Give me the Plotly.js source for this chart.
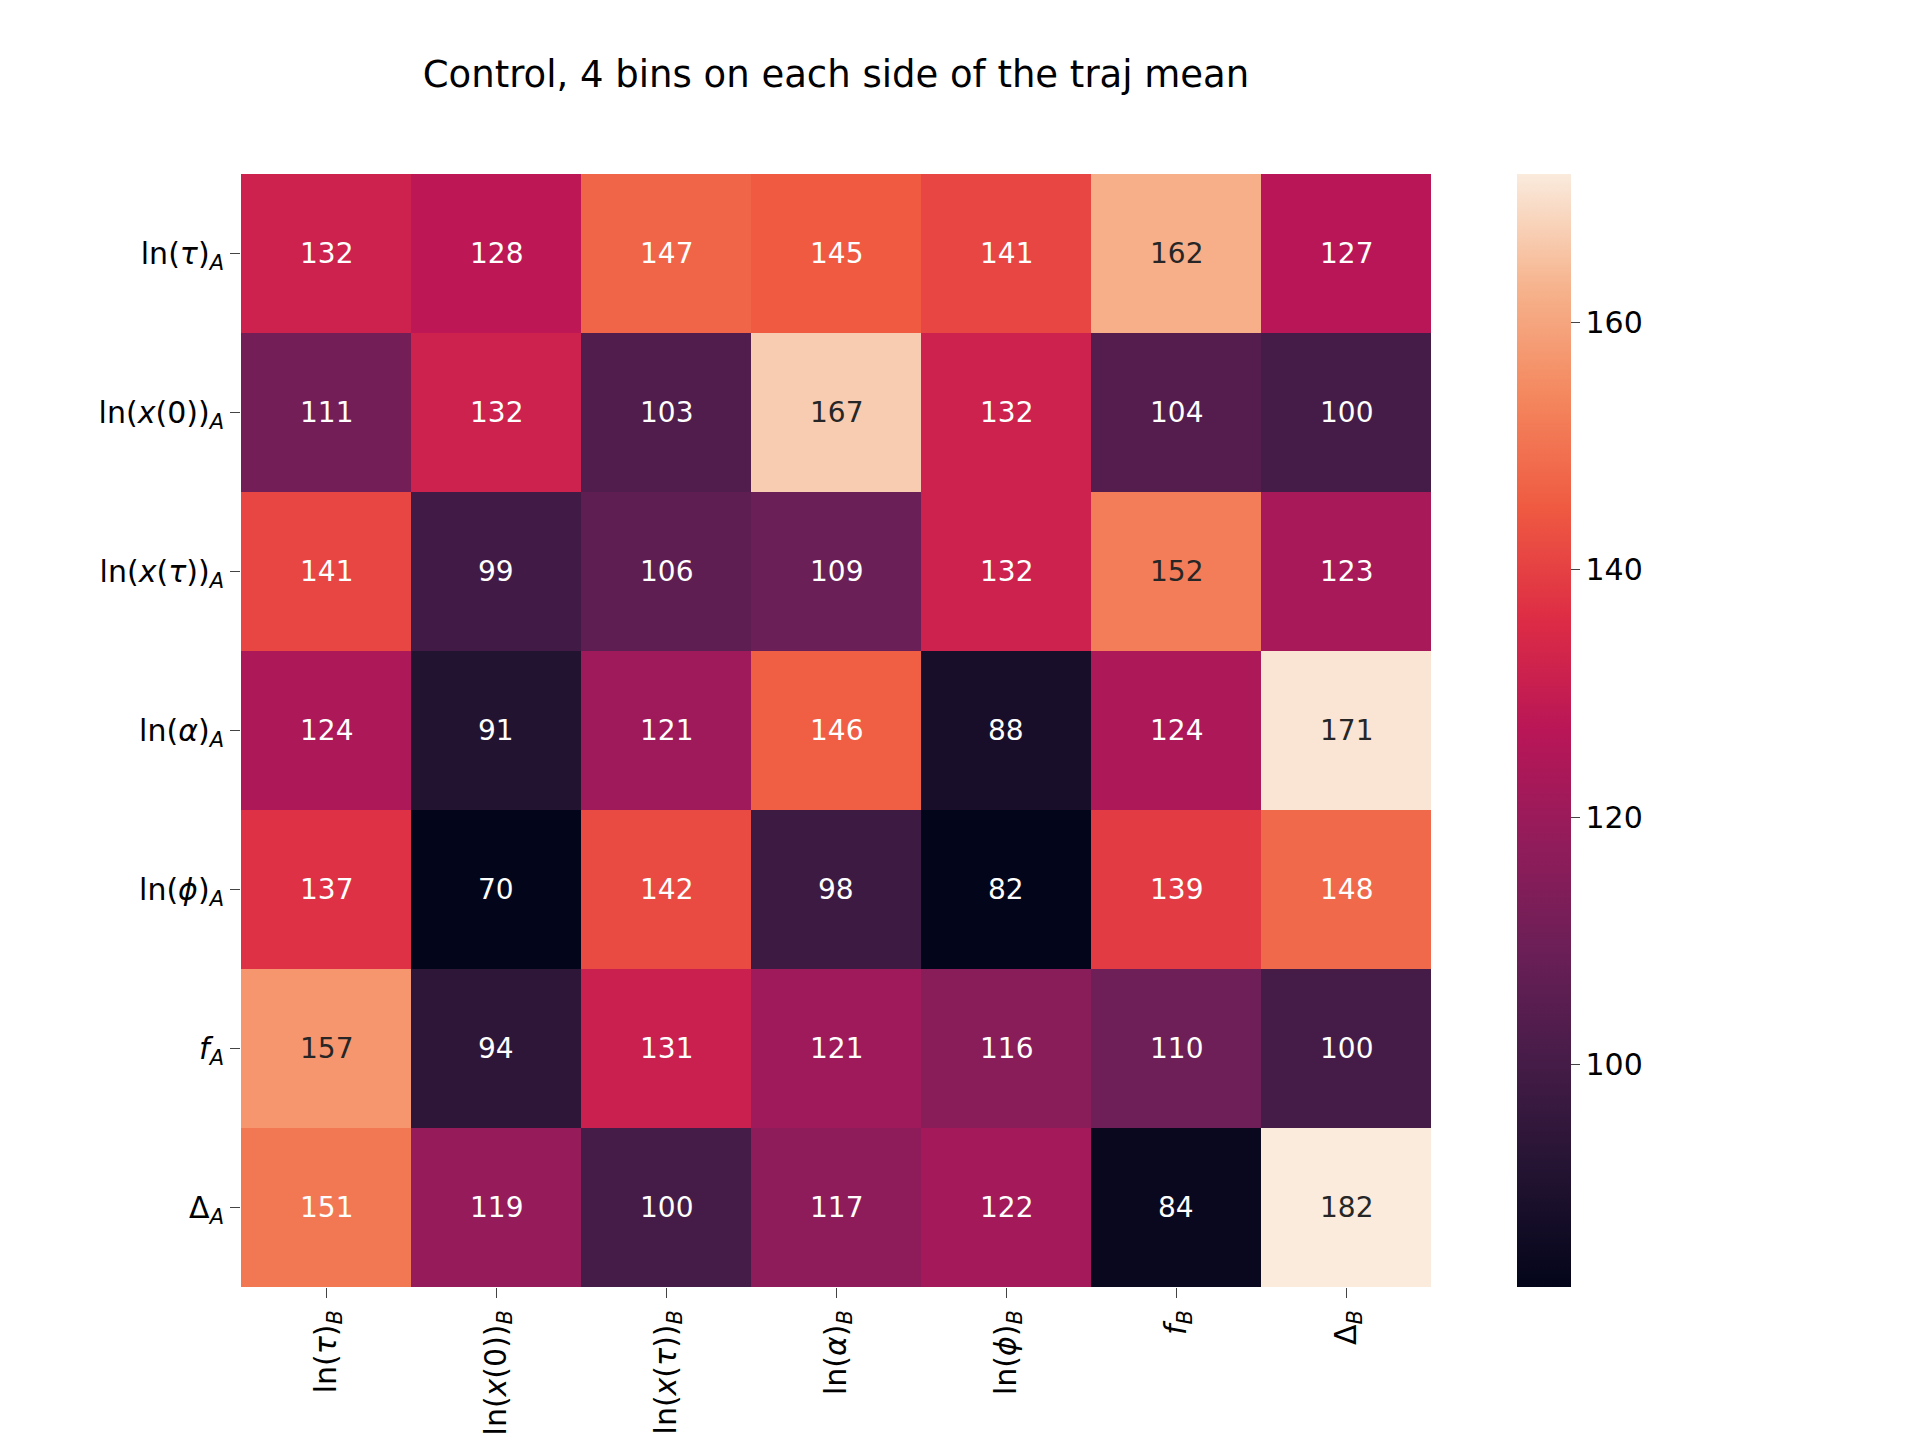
<!DOCTYPE html>
<html><head><meta charset="utf-8">
<script src="https://cdn.plot.ly/plotly-3.0.1.min.js"></script>
<style>body{margin:0;background:#fff}</style>
</head><body><div id="c" style="width:1920px;height:1440px"></div>
<script>
const xLabels = ["ln(<i>τ</i>)<sub><i>B</i></sub>","ln(<i>x</i>(0))<sub><i>B</i></sub>","ln(<i>x</i>(<i>τ</i>))<sub><i>B</i></sub>","ln(<i>α</i>)<sub><i>B</i></sub>","ln(<i>ϕ</i>)<sub><i>B</i></sub>","<i>f</i><sub><i>B</i></sub>","Δ<sub><i>B</i></sub>"];
const yLabels = ["ln(<i>τ</i>)<sub><i>A</i></sub>","ln(<i>x</i>(0))<sub><i>A</i></sub>","ln(<i>x</i>(<i>τ</i>))<sub><i>A</i></sub>","ln(<i>α</i>)<sub><i>A</i></sub>","ln(<i>ϕ</i>)<sub><i>A</i></sub>","<i>f</i><sub><i>A</i></sub>","Δ<sub><i>A</i></sub>"];
const values = [
 [132,128,147,145,141,162,127],
 [111,132,103,167,132,104,100],
 [141,99,106,109,132,152,123],
 [124,91,121,146,88,124,171],
 [137,70,142,98,82,139,148],
 [157,94,131,121,116,110,100],
 [151,119,100,117,122,84,182]
];
const rocket = [[0,'#03051A'],[0.1,'#221331'],[0.2,'#451C47'],[0.3,'#6A1F56'],[0.4,'#921C5B'],[0.5,'#B91657'],[0.6,'#DD2C45'],[0.7,'#EF5A41'],[0.8,'#F4875E'],[0.9,'#F6B48E'],[1,'#FAEBDD']];
const xi = xLabels.map((_,i)=>i), yi = yLabels.map((_,i)=>i);
const ann = [];
values.forEach((row,r)=>row.forEach((v,c)=>ann.push({x:c,y:r,text:String(v),showarrow:false,
  font:{family:'DejaVu Sans',size:28,color:v>=152?'#262626':'#ffffff'}})));
Plotly.newPlot('c',[{type:'heatmap',x:xi,y:yi,z:values,colorscale:rocket,zmin:82,zmax:172,xgap:0,ygap:0,
  colorbar:{x:1.064,xanchor:'left',len:1,y:0.5,yanchor:'middle',ypad:0,thickness:54,outlinewidth:0,ticks:'outside',ticklen:9,tickvals:[100,120,140,160],
  tickfont:{family:'DejaVu Sans',size:30,color:'#000'}}}],
 {width:1920,height:1440,margin:{l:241,r:489,t:174,b:153},paper_bgcolor:'#fff',plot_bgcolor:'#fff',
  title:{text:'Control, 4 bins on each side of the traj mean',xref:'paper',x:0.5,xanchor:'center',yref:'paper',y:1.012,yanchor:'bottom',font:{family:'DejaVu Sans',size:37,color:'#000'}},
  xaxis:{tickvals:xi,ticktext:xLabels,tickangle:-90,ticks:'outside',ticklen:10,showgrid:false,zeroline:false,tickfont:{family:'DejaVu Sans',size:30,color:'#000'}},
  yaxis:{tickvals:yi,ticktext:yLabels,autorange:'reversed',ticks:'outside',ticklen:10,showgrid:false,zeroline:false,tickfont:{family:'DejaVu Sans',size:30,color:'#000'}},
  annotations:ann},{displayModeBar:false});
</script></body></html>
